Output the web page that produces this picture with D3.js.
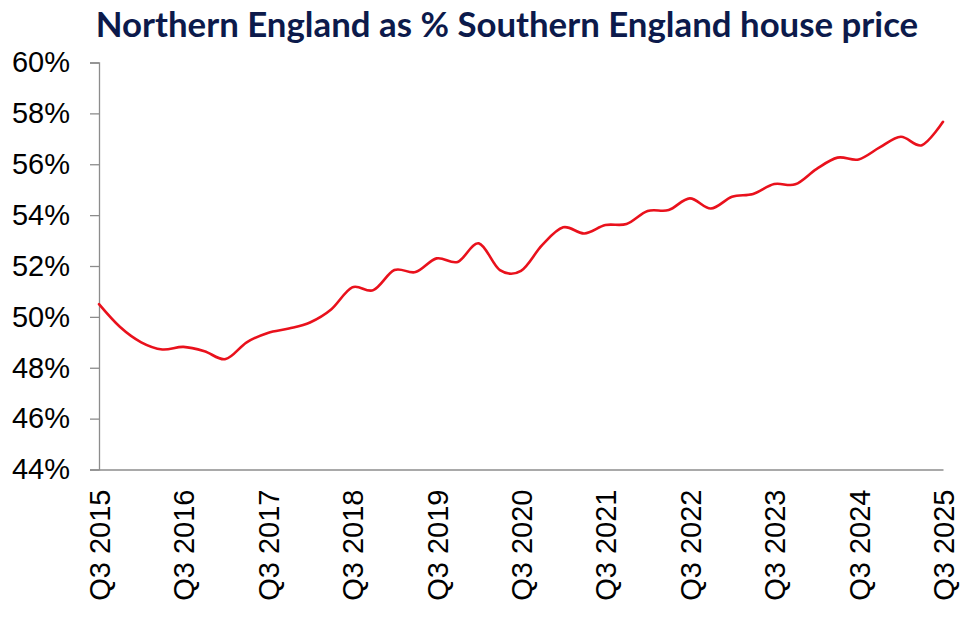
<!DOCTYPE html>
<html lang="en">
<head>
<script type="text/javascript" src="https://cdnjs.cloudflare.com/ajax/libs/d3/7.8.5/d3.min.js"></script>
<style>
    body { margin: 0; background: #fff; }
</style>
</head>
<body>
<div id="container"></div>
<script type="text/javascript">
    var w = 975;
    var h = 636;

    // quarterly, Q3 2015 .. Q3 2025
    var quarters = [];
    for (var y = 2015; y <= 2025; y++) {
        ["Q1", "Q2", "Q3", "Q4"].forEach(function (q) {
            var lab = q + " " + y;
            if ((y === 2015 && (q === "Q1" || q === "Q2")) || (y === 2025 && q === "Q4")) return;
            quarters.push(lab);
        });
    }

    var values = [
        50.5, 49.6, 49.0, 48.72, 48.82, 48.65, 48.34, 49.0, 49.37, 49.54,
        49.78, 50.29, 51.16, 51.05, 51.84, 51.76, 52.30, 52.16, 52.89, 51.84,
        51.81, 52.82, 53.52, 53.28, 53.61, 53.65, 54.16, 54.2, 54.66, 54.26,
        54.72, 54.83, 55.22, 55.21, 55.81, 56.26, 56.19, 56.66, 57.08, 56.75,
        57.67
    ];

    var yTicks = [44, 46, 48, 50, 52, 54, 56, 58, 60];

    var margin = {left: 99, right: 32, top: 62.5, bottom: 166.5};

    var svg = d3.select("#container")
                .append("svg")
                .attr("width", w)
                .attr("height", h);

    var xscale = d3.scalePoint()
                   .domain(quarters)
                   .range([margin.left, w - margin.right]);

    var yscale = d3.scaleLinear()
                   .domain([44, 60])
                   .range([h - margin.bottom, margin.top]);

    // title
    svg.append("text")
       .attr("x", 507)
       .attr("y", 37)
       .attr("text-anchor", "middle")
       .attr("font-family", "Lato, 'Noto Sans', sans-serif")
       .attr("font-weight", "bold")
       .attr("font-size", 34.8)
       .attr("fill", "#0c1a4b")
       .text("Northern England as % Southern England house price");

    // y axis
    var yAxis = svg.append("g")
                   .attr("transform", "translate(" + margin.left + ",0)")
                   .call(d3.axisLeft(yscale)
                           .tickValues(yTicks)
                           .tickSize(9)
                           .tickPadding(20)
                           .tickFormat(function (d) { return d + "%"; }));
    yAxis.select(".domain").attr("stroke", "#8c8c8c").attr("stroke-width", 1.3);
    yAxis.selectAll(".tick line").attr("stroke", "#8c8c8c").attr("stroke-width", 1.3);
    yAxis.selectAll(".tick text")
         .attr("font-family", "'Liberation Sans', Arial, sans-serif")
         .attr("font-size", 29)
         .attr("fill", "#000");

    // x axis
    var labelled = quarters.filter(function (d) { return d.indexOf("Q3") === 0; });
    var xAxis = svg.append("g")
                   .attr("transform", "translate(0," + yscale(44) + ")")
                   .call(d3.axisBottom(xscale)
                           .tickValues(labelled)
                           .tickSize(0)
                           .tickSizeOuter(0));
    xAxis.select(".domain").attr("stroke", "#8c8c8c").attr("stroke-width", 1.3);
    xAxis.selectAll(".tick text")
         .attr("font-family", "'Liberation Sans', Arial, sans-serif")
         .attr("font-size", 29)
         .attr("fill", "#000")
         .attr("text-anchor", "end")
         .attr("transform", "rotate(-90)")
         .attr("x", -20)
         .attr("y", 0)
         .attr("dy", "0.36em");

    // line
    var line = d3.line()
                 .x(function (d, i) { return xscale(quarters[i]); })
                 .y(function (d) { return yscale(d); })
                 .curve(d3.curveCardinal.tension(0));

    svg.append("path")
       .datum(values)
       .attr("d", line)
       .attr("fill", "none")
       .attr("stroke", "#e9111c")
       .attr("stroke-width", 2.6)
       .attr("stroke-linecap", "round");
</script>
</body>
</html>
